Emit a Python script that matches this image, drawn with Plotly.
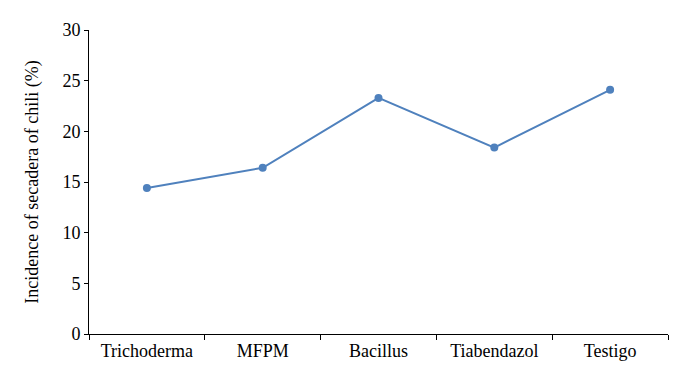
import plotly.graph_objects as go

categories = ["Trichoderma", "MFPM", "Bacillus", "Tiabendazol", "Testigo"]
incidence = [14.4, 16.4, 23.3, 18.4, 24.1]
y_ticks = [0, 5, 10, 15, 20, 25, 30]

color = "#4F81BD"
font_family = "Times New Roman, Liberation Serif, serif"

fig = go.Figure()
fig.add_trace(go.Scatter(
    x=categories, y=incidence, mode="lines+markers",
    line=dict(color=color, width=2),
    marker=dict(color=color, size=8),
    showlegend=False,
))

fig.update_layout(
    width=691, height=387,
    margin=dict(l=81, r=31, t=17, b=61),
    paper_bgcolor="white", plot_bgcolor="white",
    font=dict(family=font_family, size=18, color="black"),
)
fig.update_xaxes(
    type="category", range=[-0.5, 4.5],
    showline=True, linecolor="black", linewidth=1,
    ticks="outside", tickson="boundaries", ticklen=5, tickcolor="black",
    showgrid=False, zeroline=False,
    tickfont=dict(family=font_family, size=18),
)
fig.update_yaxes(
    range=[0, 30], tickvals=y_ticks,
    showline=True, linecolor="black", linewidth=1,
    ticks="outside", ticklen=4, tickcolor="black",
    showgrid=False, zeroline=False,
    tickfont=dict(family=font_family, size=18),
    title=dict(text="Incidence of secadera of chili (%)",
               font=dict(family=font_family, size=18), standoff=19),
)

fig.write_html("out.html")
